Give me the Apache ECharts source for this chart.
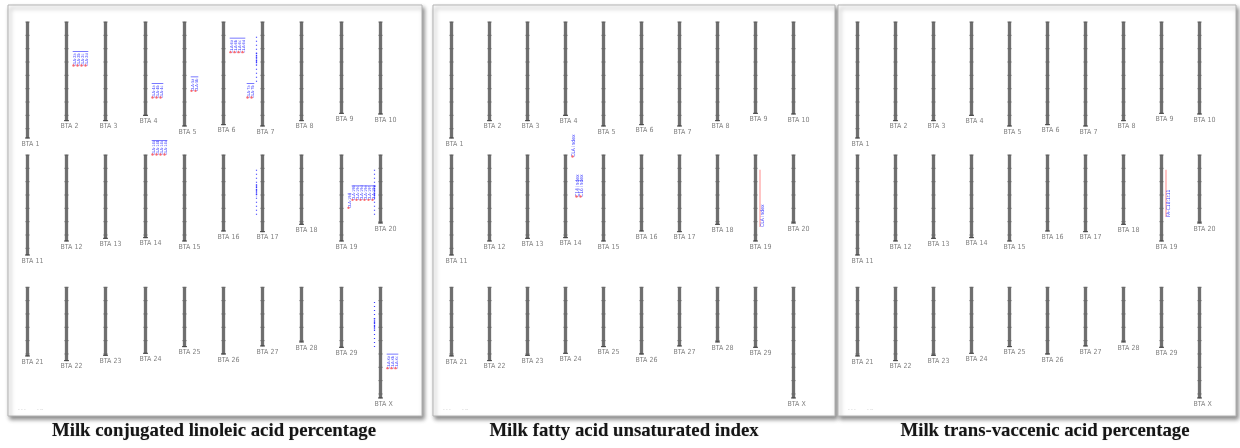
<!DOCTYPE html>
<html><head><meta charset="utf-8">
<script src="https://cdn.jsdelivr.net/npm/echarts@6/dist/echarts.min.js"></script>
<style>html,body{margin:0;padding:0;background:#fff}#c{width:1240px;height:448px}</style>
</head><body><div id="c"></div>
<script>
// ---------- DATA ----------
const chrNames = ['BTA 1','BTA 2','BTA 3','BTA 4','BTA 5','BTA 6','BTA 7','BTA 8','BTA 9','BTA 10',
  'BTA 11','BTA 12','BTA 13','BTA 14','BTA 15','BTA 16','BTA 17','BTA 18','BTA 19','BTA 20',
  'BTA 21','BTA 22','BTA 23','BTA 24','BTA 25','BTA 26','BTA 27','BTA 28','BTA 29','BTA X'];
// chromosome lengths (cM)
const chrLengths = [87, 74, 74, 70, 78, 77, 78, 74, 68.5, 69,
  75, 64.5, 62.5, 62, 64.5, 57, 57.5, 52, 64.5, 51,
  51.5, 55, 51, 49.5, 44.5, 50, 44, 41, 45, 83];
const tickStep = 10;
const panelTitles = ['Milk conjugated linoleic acid percentage', 'Milk fatty acid unsaturated index', 'Milk trans-vaccenic acid percentage'];

// Panel 1: milk CLA percentage
const claSnpGroups = [
  {chr:'BTA 2',  pos:33, labels:['CLA-2a','CLA-2b','CLA-2c','CLA-2d']},
  {chr:'BTA 4',  pos:57, labels:['CLA-4a','CLA-4b','CLA-4c']},
  {chr:'BTA 5',  pos:52, labels:['CLA-5a','CLA-5b']},
  {chr:'BTA 6',  pos:23, labels:['CLA-6a','CLA-6b','CLA-6c','CLA-6d']},
  {chr:'BTA 7',  pos:57, labels:['CLA-7a','CLA-7b'], side:'left'},
  {chr:'BTA 14', pos:0,  labels:['CLA-14a','CLA-14b','CLA-14c','CLA-14d']},
  {chr:'BTA 19', pos:40, labels:['CLA-19a']},
  {chr:'BTA 19', pos:34, labels:['CLA-19b','CLA-19c','CLA-19d','CLA-19e','CLA-19f','CLA-19g']},
  {chr:'BTA X',  pos:61, labels:['CLA-Xa','CLA-Xb','CLA-Xc']}
];
const claQtlIntervals = [
  {chr:'BTA 7',  start:11, end:45, coreStart:23, coreEnd:32},
  {chr:'BTA 17', start:11, end:45, coreStart:22, coreEnd:31},
  {chr:'BTA 20', start:11, end:45, coreStart:23, coreEnd:32},
  {chr:'BTA X',  start:11, end:45, coreStart:23, coreEnd:32}
];
// Panel 2: milk fatty acid unsaturated index
const fauiSnpGroups = [
  {chr:'BTA 14', pos:1.5,  labels:['CLA index']},
  {chr:'BTA 14', pos:31.5, labels:['C14 index','C16 index']}
];
const fauiCiIntervals = [{chr:'BTA 19', start:11, end:54, label:'CLA index'}];
// Panel 3: milk trans-vaccenic acid percentage
const tvaCiIntervals = [{chr:'BTA 19', start:11, end:46.5, label:'FA-C18:1t11'}];

// ---------- LAYOUT ----------
const panels = [
  {snp: claSnpGroups, qtl: claQtlIntervals, ci: [], snpFont: 4, topBar: true},
  {snp: fauiSnpGroups, qtl: [], ci: fauiCiIntervals, snpFont: 5, topBar: false},
  {snp: [], qtl: [], ci: tvaCiIntervals, snpFont: 5, topBar: false}
];
const gridLeft = [7.4, 432, 838];
const gridWidth = [392, 380, 380];
const rowTop = [22, 155, 287.3];
const rowHeight = 120, axisMax = 90;
const frames = [[8,5,414,411],[433,5,402,411],[838,5,398,411]];
const titleX = [214, 624, 1045];
const BLUE = '#3b3bff';

const grids = [], xAxes = [], yAxes = [], series = [];
panels.forEach((pn, p) => {
  const usage = {};
  const snpItems = pn.snp.map(g => {
    const key = g.chr + (g.side || 'right');
    const start = usage[key] || 0;
    usage[key] = start + g.labels.length;
    return Object.assign({colStart: start}, g);
  });
  for (let r = 0; r < 3; r++) {
    const gi = grids.length;
    grids.push({left: gridLeft[p], width: gridWidth[p], top: rowTop[r], height: rowHeight});
    const names = chrNames.slice(r*10, r*10+10);
    xAxes.push({gridIndex: gi, type:'category', data: names, boundaryGap: true, show: false});
    yAxes.push({gridIndex: gi, type:'value', min: 0, max: axisMax, inverse: true, show: false});
    const lens = chrLengths.slice(r*10, r*10+10);
    series.push({
      type:'custom', xAxisIndex: gi, yAxisIndex: gi, silent: true, z: 3,
      data: lens.map((L, i) => [i, L]),
      renderItem: (params, api) => {
        const i = api.value(0), len = api.value(1);
        const p0 = api.coord([i, 0]), p1 = api.coord([i, len]);
        const x = Math.round(p0[0]) + 0.5;
        const ch = [];
        ch.push({type:'rect', shape:{x:x-1.2, y:p0[1], width:2.4, height:p1[1]-p0[1]},
          style:{fill:'#6e6e6e', stroke:'#454545', lineWidth:0.6}});
        for (let c = 0; c <= len + 0.01; c += tickStep) {
          const y = api.coord([i, c])[1];
          ch.push({type:'line', shape:{x1:x-2.2, y1:y, x2:x+2.2, y2:y}, style:{stroke:'#666', lineWidth:0.7}});
        }
        ch.push({type:'line', shape:{x1:x-2.5, y1:p1[1], x2:x+2.5, y2:p1[1]}, style:{stroke:'#444', lineWidth:1}});
        ch.push({type:'text', x: x-6, y: p1[1]+2.5, style:{text: names[i], fill:'#808080', fontSize:7,
          fontFamily:'"Liberation Sans Narrow","DejaVu Sans Condensed",sans-serif', align:'left', verticalAlign:'top'}});
        return {type:'group', children: ch};
      }
    });
    const items = [];
    const inRow = c => { const k = chrNames.indexOf(c); return Math.floor(k/10) === r ? k % 10 : -1; };
    snpItems.forEach(g => { const l = inRow(g.chr); if (l >= 0) items.push({kind:'snp', local:l, v:g.pos, g}); });
    pn.qtl.forEach(q => { const l = inRow(q.chr); if (l >= 0) items.push({kind:'qtl', local:l, v:q.start, q}); });
    pn.ci.forEach(q => { const l = inRow(q.chr); if (l >= 0) items.push({kind:'ci', local:l, v:q.start, q}); });
    if (items.length) {
      series.push({
        type:'custom', xAxisIndex: gi, yAxisIndex: gi, silent: true, z: 4,
        data: items.map(it => [it.local, it.v]),
        renderItem: (params, api) => {
          const it = items[params.dataIndex];
          const x = Math.round(api.coord([it.local, 0])[0]) + 0.5;
          const Y = cm => api.coord([it.local, cm])[1];
          const ch = [];
          if (it.kind === 'snp') {
            const g = it.g, n = g.labels.length, yb = Y(g.pos);
            const cxs = [];
            for (let k = 0; k < n; k++) {
              const cx = g.side === 'left' ? x - 10 - (g.colStart + n - 1 - k) * 4 : x + 8 + (g.colStart + k) * 4;
              cxs.push(cx);
              ch.push({type:'text', x: cx, y: yb, rotation: Math.PI/2,
                style:{text: g.labels[k], fill: BLUE, fontSize: pn.snpFont,
                  fontFamily:'"DejaVu Sans Condensed",sans-serif', align:'left', verticalAlign:'middle'}});
              ch.push({type:'circle', shape:{cx: cx-1, cy: yb-0.5, r: 1.2}, style:{fill:'rgba(255,80,80,0.8)'}});
            }
            if (pn.topBar) {
              ch.push({type:'line', shape:{x1: Math.min(...cxs)-1.8, y1: yb-14.5, x2: Math.max(...cxs)+1.8, y2: yb-14.5},
                style:{stroke: '#6a6aff', lineWidth: 0.9}});
            }
          } else if (it.kind === 'qtl') {
            const q = it.q;
            ch.push({type:'line', shape:{x1:x-6, y1:Y(q.start), x2:x-6, y2:Y(q.end)},
              style:{stroke: BLUE, lineWidth:1.2, lineDash:[1, 3]}});
            ch.push({type:'line', shape:{x1:x-6, y1:Y(q.coreStart), x2:x-6, y2:Y(q.coreEnd)},
              style:{stroke: BLUE, lineWidth:1.3, lineDash:[1.5, 0.8]}});
          } else {
            const q = it.q;
            ch.push({type:'line', shape:{x1:x+4.5, y1:Y(q.start), x2:x+4.5, y2:Y(q.end)},
              style:{stroke:'#ff9c9c', lineWidth:1.2}});
            ch.push({type:'text', x: x+7.5, y: Y(q.end), rotation: Math.PI/2,
              style:{text: q.label, fill: BLUE, fontSize: 5,
                fontFamily:'"DejaVu Sans Condensed",sans-serif', align:'left', verticalAlign:'middle'}});
          }
          return {type:'group', children: ch};
        }
      });
    }
  }
});

const graphics = [];
frames.forEach((f, p) => {
  graphics.push({type:'rect', z:-10, shape:{x:f[0], y:f[1], width:f[2], height:f[3]},
    style:{fill:'#fff', stroke:'#b3b3b3', lineWidth:1, shadowBlur:4, shadowOffsetX:2, shadowOffsetY:3, shadowColor:'rgba(0,0,0,0.45)'}});
  graphics.push({type:'text', z:-5, x: f[0]+10, y: 407, style:{text:'- - -        - --', fill:'#cfcfcf', fontSize:5, fontFamily:'sans-serif'}});
  graphics.push({type:'text', z:0, x: titleX[p], y: 431, style:{text: panelTitles[p], fill:'#161616', fontSize:18.8,
    fontWeight:'bold', fontFamily:'"Liberation Serif","DejaVu Serif",serif', align:'center', verticalAlign:'middle',
    textShadowBlur:1, textShadowColor:'rgba(0,0,0,0.3)'}});
});

const chart = echarts.init(document.getElementById('c'), null, {renderer:'canvas'});
chart.setOption({
  animation: false,
  backgroundColor: '#fff',
  grid: grids, xAxis: xAxes, yAxis: yAxes, series,
  graphic: {elements: graphics}
});
</script></body></html>
